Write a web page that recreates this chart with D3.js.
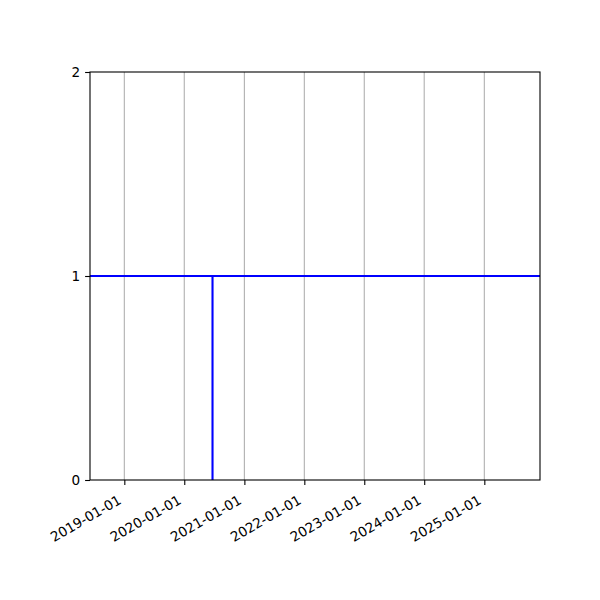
<!DOCTYPE html>
<html>
<head>
<meta charset="utf-8">
<script src="https://cdn.jsdelivr.net/npm/d3@7/dist/d3.min.js"></script>
<style>
  body { margin: 0; background: #fff; }
  text { font-family: "DejaVu Sans", sans-serif; }
</style>
</head>
<body>
<div id="chartDiv"></div>
<script>
// data
const xDomain = ["2018-06-06", "2025-12-06"];
const yDomain = [0, 2];
const lineDates = ["2018-06-06", "2020-06-21", "2020-06-21", "2020-06-21", "2025-12-06"];
const lineValues = [1, 1, 0, 1, 1];
const xTickDates = ["2019-01-01", "2020-01-01", "2021-01-01", "2022-01-01", "2023-01-01", "2024-01-01", "2025-01-01"];
const yTickValues = [0, 1, 2];

const parse = d3.utcParse("%Y-%m-%d");
const fmt = d3.utcFormat("%Y-%m-%d");

// figure layout (matplotlib-like)
const margin = { top: 72, right: 60, bottom: 120, left: 90 },
    width = 600 - margin.left - margin.right,
    height = 600 - margin.top - margin.bottom;

const svg = d3.select("#chartDiv")
    .append("svg")
    .attr("width", 600)
    .attr("height", 600)
    .append("g")
    .attr("transform", "translate(" + margin.left + "," + margin.top + ")");

const x = d3.scaleUtc()
    .domain(xDomain.map(parse))
    .range([0, width]);

const y = d3.scaleLinear()
    .domain(yDomain)
    .range([height, 0]);

const tickLen = 4.9, pad = 4.9, fontSize = 13.6;

// vertical grid
svg.append("g")
    .selectAll("line")
    .data(xTickDates.map(parse))
    .join("line")
    .attr("x1", d => x(d)).attr("x2", d => x(d))
    .attr("y1", 0).attr("y2", height)
    .style("stroke", "#b0b0b0")
    .style("stroke-width", 1.1);

// data line
const line = d3.line()
    .x((d, i) => x(parse(lineDates[i])))
    .y(d => y(d));

svg.append("path")
    .datum(lineValues)
    .attr("d", line)
    .style("fill", "none")
    .style("stroke", "blue")
    .style("stroke-width", 2.1);

// x axis
const xAxis = svg.append("g")
    .attr("transform", "translate(0," + height + ")")
    .call(d3.axisBottom(x)
        .tickValues(xTickDates.map(parse))
        .tickFormat(fmt)
        .tickSize(tickLen)
        .tickPadding(pad));
xAxis.select(".domain").remove();
xAxis.selectAll(".tick line").style("stroke", "#000").style("stroke-width", 1.1);
xAxis.selectAll(".tick text")
    .attr("font-size", fontSize)
    .attr("font-family", "DejaVu Sans")
    .attr("fill", "#000")
    .attr("text-anchor", "end")
    .attr("dy", null)
    .attr("y", null)
    .attr("transform", "translate(-2.5," + (tickLen + pad + 13) + ") rotate(-30)");

// y axis
const yAxis = svg.append("g")
    .call(d3.axisLeft(y)
        .tickValues(yTickValues)
        .tickFormat(d3.format("d"))
        .tickSize(tickLen)
        .tickPadding(pad));
yAxis.select(".domain").remove();
yAxis.selectAll(".tick line").style("stroke", "#000").style("stroke-width", 1.1);
yAxis.selectAll(".tick text")
    .attr("font-size", fontSize)
    .attr("font-family", "DejaVu Sans")
    .attr("fill", "#000");

// spines
svg.append("rect")
    .attr("width", width)
    .attr("height", height)
    .style("fill", "none")
    .style("stroke", "#000")
    .style("stroke-width", 1.1);
</script>
</body>
</html>
